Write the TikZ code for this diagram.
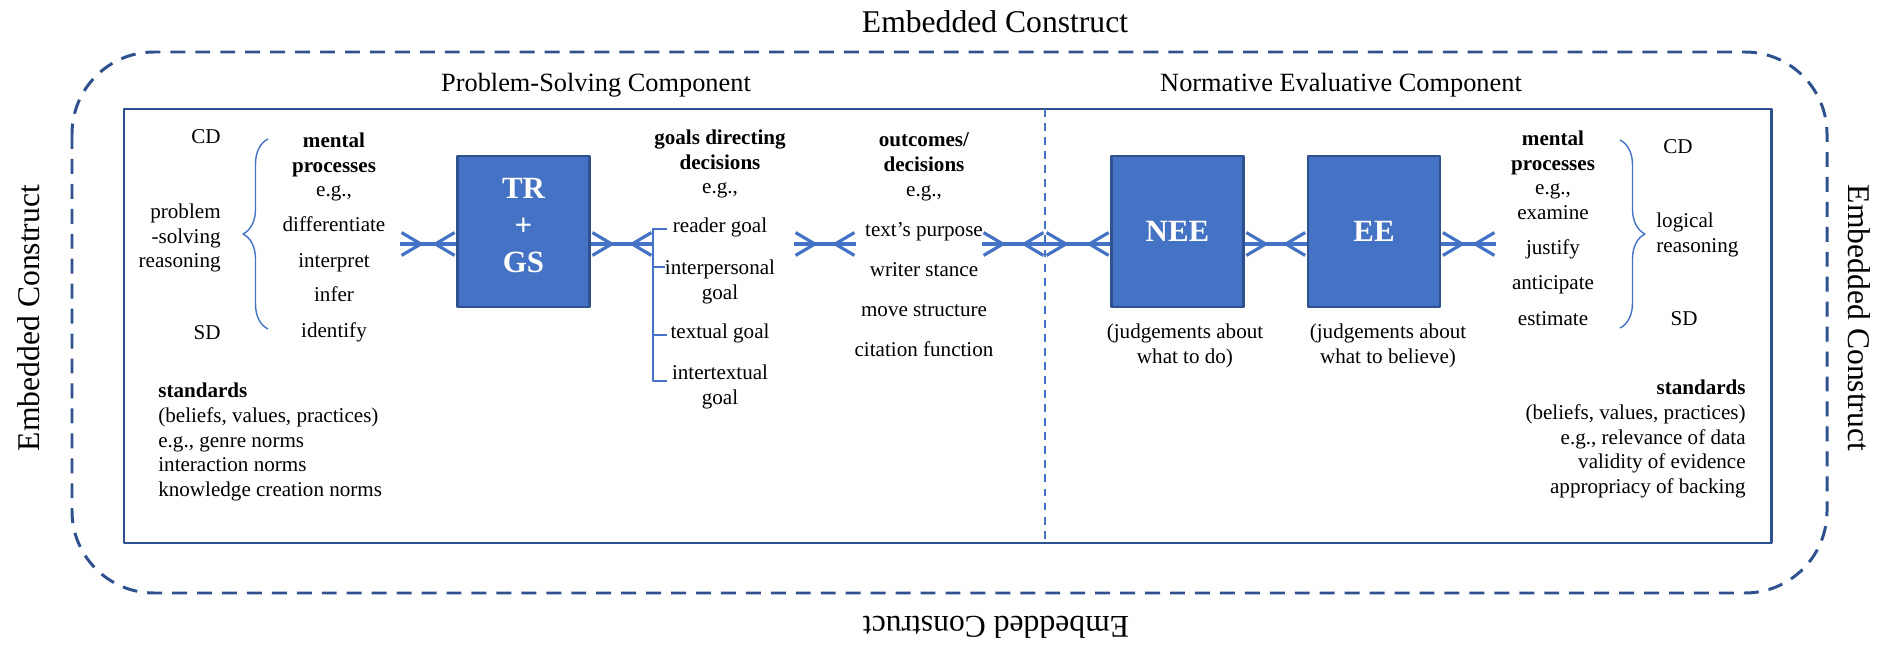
\documentclass[tikz,border=0pt]{standalone}
\usepackage{fontspec}
\setmainfont{Liberation Serif}
\usetikzlibrary{arrows.meta,decorations.markings,decorations.pathreplacing}

\definecolor{boxblue}{HTML}{4472C4}
\definecolor{edgeblue}{HTML}{2F528F}

\begin{document}
\begin{tikzpicture}[
	x=0.02cm, y=-0.02cm,
	every node/.style={font=\fontsize{12}{14.2}\selectfont, inner sep=0pt},
	line join=round,
	word/.style={text height=0.7em, text depth=0.2em},
	head/.style={font=\fontsize{15}{18}\selectfont},
	outer/.style={font=\fontsize{18}{21}\selectfont},
	block/.style={draw=edgeblue, line width=1.5pt, fill=boxblue, text=white,
		font=\fontsize{17.6}{21}\selectfont\bfseries, align=center,
		minimum width=2.64cm, minimum height=3.02cm},
	link/.style={color=boxblue, line width=1.8pt, postaction={decorate},
		decoration={markings,
			mark=at position 0.48cm with {\arrow{Straight Barb[length=11pt,width=13pt]}},
			mark=at position -0.48cm with {\arrowreversed{Straight Barb[length=11pt,width=13pt]}}}},
	curly/.style={draw=boxblue, line width=0.8pt, decorate,
		decoration={brace, amplitude=0.5cm}}
	]
	
	\useasboundingbox (0,0) rectangle (1887,648);
	
	% Embedded construct
	\draw[edgeblue, line width=1.7pt, dash pattern=on 8.5pt off 5.7pt, rounded corners=1.64cm]
	(72,52) rectangle (1827,593);
	\node[outer] (ectop) at (995,22) {Embedded Construct};
	\node[outer, rotate=180] (ecbottom) at (996,627) {Embedded Construct};
	\node[outer, rotate=90] (ecleft) at (29,318) {Embedded Construct};
	\node[outer, rotate=-90] (ecright) at (1859,318) {Embedded Construct};
	
	% Components
	\draw[edgeblue, line width=1.7pt] (124,109) rectangle (1771,543);
	\coordinate (divtop) at (1045,109);
	\coordinate (divbot) at (1045,543);
	\draw[boxblue, line width=1.1pt, dash pattern=on 4.5pt off 3.5pt] (divtop) -- (divbot);
	\node[head] (pshead) at (596,85) {Problem-Solving Component};
	\node[head] (nehead) at (1341,85) {Normative Evaluative Component};
	
	\coordinate (row) at (0,244);
	
	% Problem-solving side
	\node[word, anchor=east] (cdL) at (221,139) {CD};
	\node[anchor=east, align=right] (psr) at (221,238) {problem\\-solving\\reasoning};
	\node[word, anchor=east] (sdL) at (221,335) {SD};
	\draw[curly] (268,329) -- (268,139);
	
	\node[align=center] (mpL) at (334,167) {\textbf{mental}\\\textbf{processes}\\e.g.,};
	\foreach \name/\y/\txt in {dif/227/differentiate, itp/263/interpret,
		inf/297/infer, idf/333/identify}
	{
		\node[word] (\name) at (334,\y) {\txt};
	}
	
	\node[anchor=west, align=left] (stdL) at (158,442)
	{\textbf{standards}\\(beliefs, values, practices)\\e.g., genre norms\\interaction norms\\knowledge creation norms};
	
	\node[block] (trgs) at (523.5,231.5) {TR\\+\\GS\\[-0.8em]};
	
	\coordinate (mpout) at (400,244);
	\draw[link] (mpout) -- (trgs.west |- row);
	
	% Goals
	\node[align=center] (goals) at (720,164) {\textbf{goals directing}\\\textbf{decisions}\\e.g.,};
	\node[word] (rdg) at (720,228) {reader goal};
	\node[align=center] (ipg) at (720,282) {interpersonal\\goal};
	\node[word] (txg) at (720,334) {textual goal};
	\node[align=center] (itg) at (720,387) {intertextual\\goal};
	\coordinate (gbar) at (653,244);
	\draw[boxblue, line width=1.5pt] (667,229) -| (653,381) -- (667,381)
	(653,267) -- (665,267) (653,335) -- (667,335);
	\draw[link] (trgs.east |- row) -- (gbar);
	
	% Outcomes
	\node[align=center] (outc) at (924,167) {\textbf{outcomes/}\\\textbf{decisions}\\e.g.,};
	\foreach \name/\y/\txt in {tpp/232/{text’s purpose}, wst/272/{writer stance},
		mvs/312/{move structure}, ctf/352/{citation function}}
	{
		\node[word] (\name) at (924,\y) {\txt};
	}
	\coordinate (gout) at (794,244);
	\coordinate (oin) at (856,244);
	\draw[link] (gout) -- (oin);
	\coordinate (oout) at (982,244);
	\draw[link] (oout) -- (divtop |- row);
	
	% Normative evaluative side
	\node[block] (nee) at (1177.5,231.5) {NEE};
	\node[block] (ee) at (1374,231.5) {EE};
	\draw[link] (divtop |- row) -- (nee.west |- row);
	\draw[link] (nee.east |- row) -- (ee.west |- row);
	\coordinate (mpin) at (1496,244);
	\draw[link] (ee.east |- row) -- (mpin);
	
	\node[align=center] (jdo) at (1185,346) {(judgements about\\what to do)};
	\node[align=center] (jbel) at (1388,346) {(judgements about\\what to believe)};
	
	\node[align=center] (mpR) at (1553,165) {\textbf{mental}\\\textbf{processes}\\e.g.,};
	\foreach \name/\y/\txt in {exm/215/examine, jus/250/justify,
		ant/285/anticipate, est/321/estimate}
	{
		\node[word] (\name) at (1553,\y) {\txt};
	}
	\draw[curly] (1620,140) -- (1620,328);
	\node[word] (cdR) at (1678,149) {CD};
	\node[anchor=west, align=left] (lgr) at (1656,235) {logical\\reasoning};
	\node[word] (sdR) at (1684,321) {SD};
	
	\node[anchor=east, align=right] (stdR) at (1746,439)
	{\textbf{standards}\\(beliefs, values, practices)\\e.g., relevance of data\\validity of evidence\\appropriacy of backing};
	
\end{tikzpicture}
\end{document}
